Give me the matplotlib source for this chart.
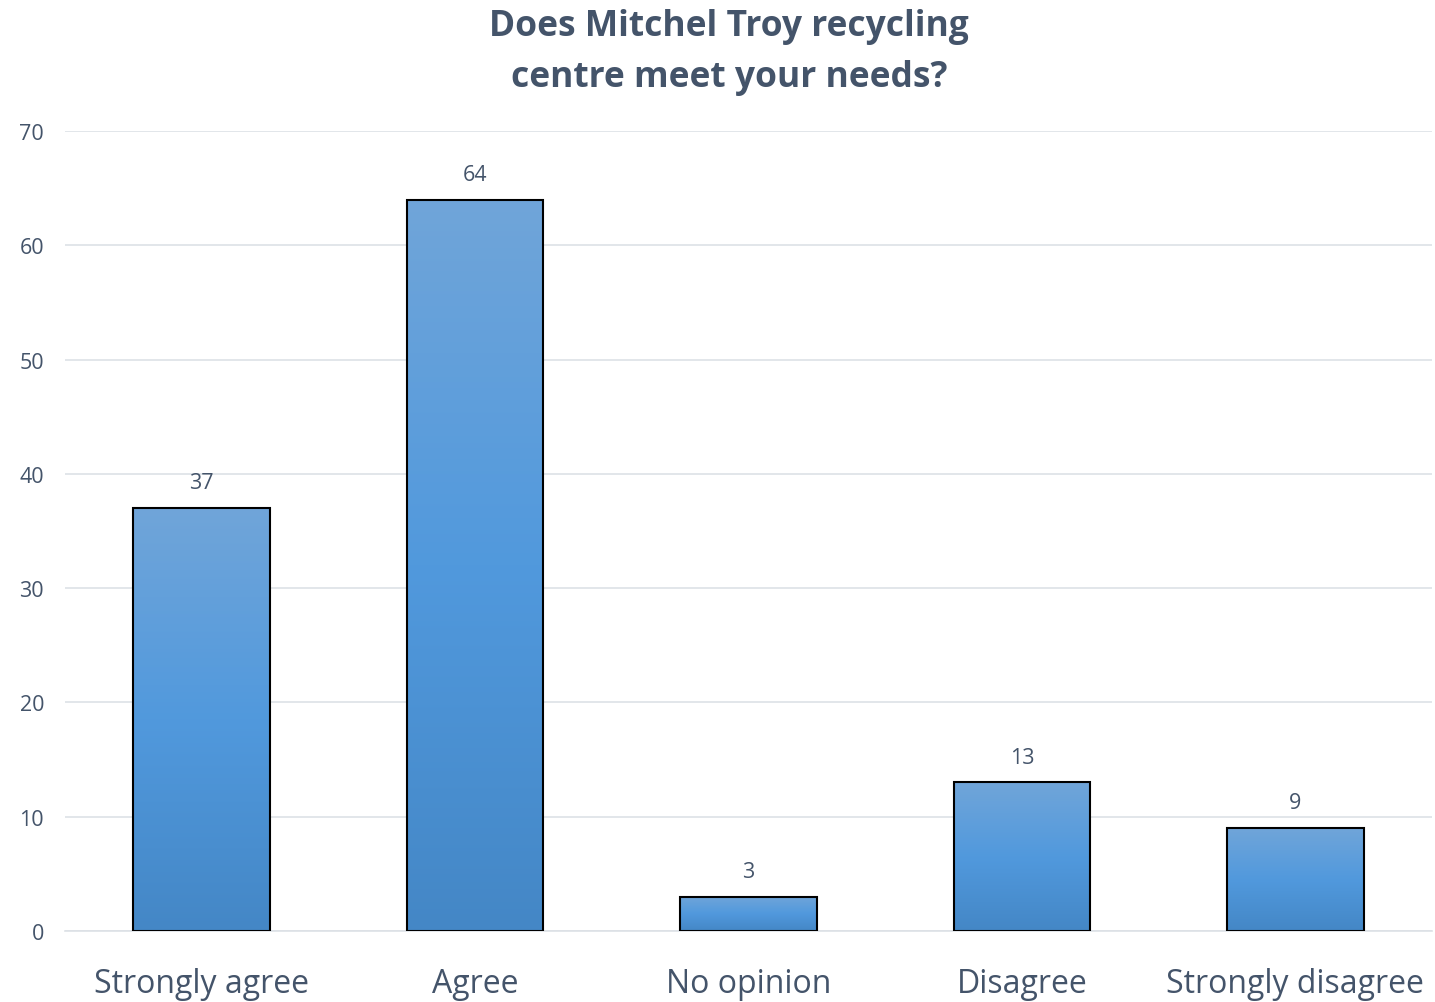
import matplotlib
matplotlib.use('Agg')
import matplotlib.pyplot as plt
import numpy as np
from matplotlib.colors import LinearSegmentedColormap

# data
categories = ['Strongly agree', 'Agree', 'No opinion', 'Disagree', 'Strongly disagree']
values = [37, 64, 3, 13, 9]

plt.rcParams['font.family'] = ['Open Sans', 'DejaVu Sans']
txt_color = '#44546A'

fig = plt.figure(figsize=(14.35, 10.03), dpi=100)
ax = fig.add_axes([65/1435, 71/1003, 1367/1435, 800/1003])

x = np.arange(len(categories))
bars = ax.bar(x, values, width=0.5, color='none', edgecolor='black', linewidth=1.5, zorder=3)

# gradient fill for each bar
cmap = LinearSegmentedColormap.from_list('grad', ['#4487C6', '#5199DD', '#70A5D9'])
grad = np.linspace(0, 1, 256).reshape(-1, 1)
for b in bars:
    bx, by = b.get_x(), b.get_y()
    w, h = b.get_width(), b.get_height()
    im = ax.imshow(grad, cmap=cmap, aspect='auto', origin='lower',
                   extent=[bx, bx + w, by, by + h], zorder=2)
    im.set_clip_path(b)

for xi, v in zip(x, values):
    ax.text(xi, v + 1.3, str(v), ha='center', va='bottom', fontsize=15.5, color=txt_color)

ax.set_xlim(-0.5, 4.5)
ax.set_ylim(0, 70)
ax.set_yticks(range(0, 71, 10))
ax.set_xticks(x, categories)
ax.grid(axis='y', color='#DDE1E6', linewidth=1.2, zorder=0)
ax.set_axisbelow(True)
for s in ['top', 'right', 'left']:
    ax.spines[s].set_visible(False)
ax.spines['bottom'].set_color('#DDE1E6')
ax.spines['bottom'].set_linewidth(1.2)
ax.tick_params(axis='y', length=0, pad=15, labelsize=15.5, labelcolor=txt_color)
ax.tick_params(axis='x', length=0, pad=26, labelsize=23, labelcolor=txt_color)

fig.suptitle('Does Mitchel Troy recycling\ncentre meet your needs?', x=0.508, y=0.991,
             va='top', fontsize=25.5, fontweight='bold', color=txt_color, linespacing=1.55)

fig.savefig('out.png', dpi=100)
